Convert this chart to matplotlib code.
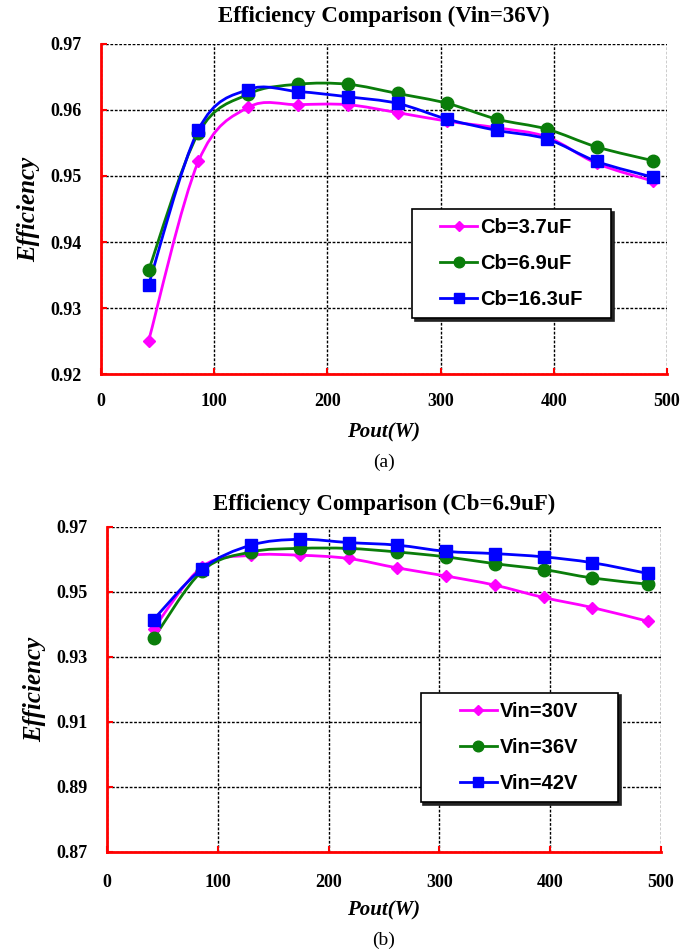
import matplotlib
matplotlib.use("Agg")
import matplotlib.pyplot as plt
from matplotlib.path import Path
from matplotlib.patches import PathPatch
from matplotlib.ticker import FormatStrFormatter

# output power points (W)
pout = [42, 86, 130, 174, 218, 262, 306, 350, 394, 438, 488]

# (a) Vin = 36V, different Cb
cb_37 = [0.9250, 0.9522, 0.9604, 0.9608, 0.9608, 0.9596, 0.9583, 0.9573, 0.9559, 0.9519, 0.9492]
cb_69 = [0.9357, 0.9565, 0.9624, 0.9639, 0.9639, 0.9625, 0.9610, 0.9586, 0.9571, 0.9544, 0.9523]
cb_163 = [0.9335, 0.9570, 0.9631, 0.9628, 0.9620, 0.9610, 0.9586, 0.9569, 0.9556, 0.9522, 0.9498]

# (b) Cb = 6.9uF, different Vin
vin_30 = [0.9387, 0.9578, 0.9613, 0.9613, 0.9603, 0.9574, 0.9549, 0.9521, 0.9483, 0.9452, 0.9410]
vin_36 = [0.9357, 0.9565, 0.9623, 0.9634, 0.9634, 0.9623, 0.9608, 0.9587, 0.9569, 0.9543, 0.9524]
vin_42 = [0.9415, 0.9572, 0.9644, 0.9662, 0.9652, 0.9644, 0.9625, 0.9618, 0.9608, 0.9590, 0.9557]

labels_a = ["Cb=3.7uF", "Cb=6.9uF", "Cb=16.3uF"]
labels_b = ["Vin=30V", "Vin=36V", "Vin=42V"]

MAGENTA = "#ff00ff"
GREEN = "#0a7d0a"
BLUE = "#0000ff"
styles = [(MAGENTA, "D", 6.5), (GREEN, "o", 9), (BLUE, "s", 8)]

SERIF = "Liberation Serif"


def smooth_path(xs, ys):
    # excel-like smoothed line: cubic bezier through the data points
    n = len(xs)
    verts = [(xs[0], ys[0])]
    codes = [Path.MOVETO]
    for i in range(n - 1):
        i0 = max(i - 1, 0)
        i3 = min(i + 2, n - 1)
        c1 = (xs[i] + (xs[i + 1] - xs[i0]) / 6, ys[i] + (ys[i + 1] - ys[i0]) / 6)
        c2 = (xs[i + 1] - (xs[i3] - xs[i]) / 6, ys[i + 1] - (ys[i3] - ys[i]) / 6)
        verts += [c1, c2, (xs[i + 1], ys[i + 1])]
        codes += [Path.CURVE4] * 3
    return Path(verts, codes)


def make_wide_box(extra):
    # legend frame with extra room left and right
    def box(x0, y0, width, height, mutation_size):
        px = extra * mutation_size
        return Path([(x0 - px, y0), (x0 + width + px, y0), (x0 + width + px, y0 + height),
                     (x0 - px, y0 + height), (x0 - px, y0)], closed=True)
    return box


def draw_panel(ax, series, labels, yticks, title, caption, leg_anchor,
               tick_pad, xlab_pad, title_off, leg_extra):
    for ys, (col, mk, ms), lab in zip(series, styles, labels):
        ax.add_patch(PathPatch(smooth_path(pout, ys), facecolor="none",
                               edgecolor=col, lw=2, zorder=3))
        ax.plot(pout, ys, color=col, lw=2, marker=mk, markersize=ms,
                linestyle="none", zorder=4)
        # proxy for the legend (line + marker)
        ax.plot([], [], color=col, lw=2, marker=mk, markersize=ms, label=lab)

    ax.set_xlim(0, 500)
    ax.set_ylim(yticks[0], yticks[-1])
    ax.set_xticks(range(0, 501, 100))
    ax.set_yticks(yticks)
    ax.yaxis.set_major_formatter(FormatStrFormatter("%.2f"))
    ax.grid(True, color="black", linestyle=(0, (2, 1.2)), lw=1)
    ax.set_axisbelow(True)

    for s in ["top", "right"]:
        ax.spines[s].set_visible(False)
    for s in ["left", "bottom"]:
        ax.spines[s].set_color("red")
        ax.spines[s].set_linewidth(2)
        ax.spines[s].set_zorder(5)
    ax.tick_params(direction="in", color="red", width=1.5, length=4)
    ax.tick_params(axis="x", pad=tick_pad)
    ax.tick_params(axis="y", pad=14)
    for lbl in ax.get_xticklabels() + ax.get_yticklabels():
        lbl.set_fontfamily(SERIF)
        lbl.set_fontweight("bold")
        lbl.set_fontsize(13)

    ax.set_xlabel("Pout(W)", family=SERIF, weight="bold", style="italic",
                  fontsize=15, labelpad=xlab_pad)
    ax.set_ylabel("Efficiency", family=SERIF, weight="bold", style="italic",
                  fontsize=18, labelpad=7)

    leg = ax.legend(loc="center", bbox_to_anchor=leg_anchor,
                    prop={"family": "Liberation Sans", "weight": "bold", "size": 14.5},
                    frameon=True, fancybox=False, shadow={"color": "#222", "alpha": 1},
                    handlelength=1.85, handletextpad=0.15, labelspacing=0.85,
                    borderpad=0.45, markerscale=0.85)
    frame = leg.get_frame()
    frame.set_boxstyle(make_wide_box(leg_extra))
    frame.set_edgecolor("black")
    frame.set_linewidth(1.2)
    leg.set_zorder(10)

    bb = ax.get_position()
    fig.text((bb.x0 + bb.x1) / 2, bb.y1 + title_off, title, ha="center",
             va="center", family=SERIF, weight="bold", fontsize=16.5)
    fig.text((bb.x0 + bb.x1) / 2, bb.y0 - 0.093, caption, ha="center",
             va="center", family=SERIF, fontsize=14)


fig = plt.figure(figsize=(6.9, 9.5), dpi=100)
ax1 = fig.add_axes([0.1464, 0.6063, 0.8203, 0.3474])
ax2 = fig.add_axes([0.1551, 0.1032, 0.8029, 0.3421])

draw_panel(ax1, [cb_37, cb_69, cb_163], labels_a,
           [0.92, 0.93, 0.94, 0.95, 0.96, 0.97],
           "Efficiency Comparison (Vin=36V)", "(a)", (0.725, 0.335),
           14, 9, 0.0295, 0.95)
draw_panel(ax2, [vin_30, vin_36, vin_42], labels_b,
           [0.87, 0.89, 0.91, 0.93, 0.95, 0.97],
           "Efficiency Comparison (Cb=6.9uF)", "(b)", (0.744, 0.322),
           16, 7, 0.024, 1.5)

fig.savefig("out.png", dpi=100)
